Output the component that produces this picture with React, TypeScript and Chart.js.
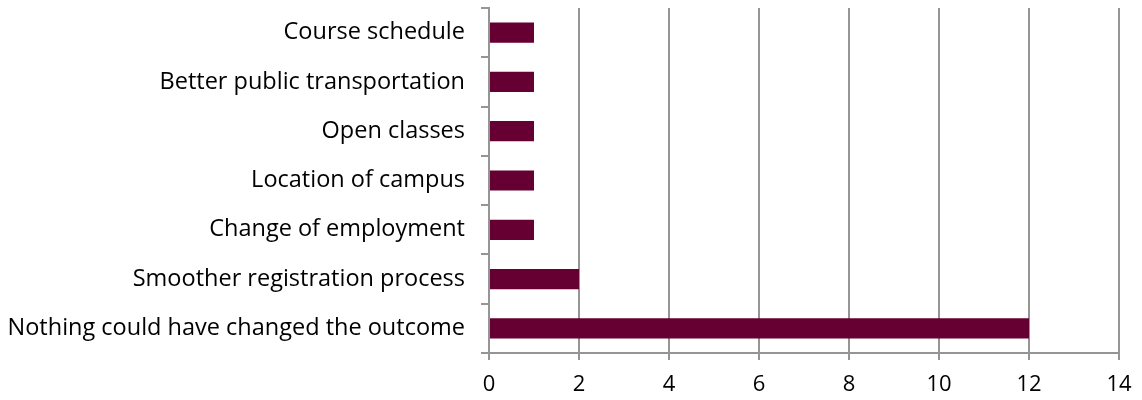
import React, { useEffect, useRef } from "react";
import { Chart, registerables } from "chart.js";

Chart.register(...registerables);

const categories = [
  "Course schedule",
  "Better public transportation",
  "Open classes",
  "Location of campus",
  "Change of employment",
  "Smoother registration process",
  "Nothing could have changed the outcome",
];
const values = [1, 1, 1, 1, 1, 2, 12];
const xTicks = [0, 2, 4, 6, 8, 10, 12, 14];

export default function App() {
  const ref = useRef<HTMLCanvasElement | null>(null);
  useEffect(() => {
    document.body.style.margin = "0";
    const ctx = ref.current!;
    const chart = new Chart(ctx, {
      type: "bar",
      data: {
        labels: categories,
        datasets: [
          {
            data: values,
            backgroundColor: "#660033",
            borderWidth: 0,
            barPercentage: 0.41,
            categoryPercentage: 1,
          },
        ],
      },
      options: {
        indexAxis: "y",
        animation: false,
        responsive: false,
        layout: { padding: { top: 8, right: 23, left: 0, bottom: 0 } },
        plugins: { legend: { display: false }, tooltip: { enabled: false } },
        scales: {
          x: {
            min: 0,
            max: 14,
            afterBuildTicks: (s: any) => {
              s.ticks = xTicks.map((v) => ({ value: v }));
            },
            grid: { color: "#959595", lineWidth: 2, tickLength: 7, drawOnChartArea: true },
            border: { color: "#959595", width: 2 },
            ticks: {
              color: "#000",
              padding: 12,
              maxRotation: 0,
              font: { family: "'Open Sans'", size: 22 },
            },
            afterFit: (s: any) => {
              s.height = 47;
              s.paddingLeft = 0;
              s.paddingRight = 0;
            },
          },
          y: {
            grid: { color: "#959595", lineWidth: 2, drawOnChartArea: false, tickLength: 8, offset: true },
            border: { color: "#959595", width: 2 },
            ticks: {
              color: "#000",
              padding: 16,
              font: { family: "'Open Sans'", size: 23.5 },
            },
            afterFit: (s: any) => {
              s.width = 489;
              s.paddingTop = 0;
              s.paddingBottom = 0;
            },
          },
        },
      },
    });
    return () => chart.destroy();
  }, []);
  return (
    <div style={{ width: 1142, height: 400 }}>
      <canvas ref={ref} width={1142} height={400} style={{ display: "block" }} />
    </div>
  );
}
